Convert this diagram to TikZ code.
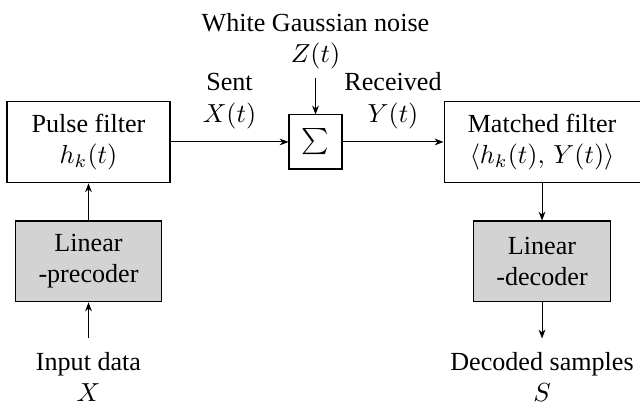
\documentclass[tikz,border=0pt]{standalone}
\usepackage[no-math]{fontspec}
\setmainfont{Liberation Serif}
\usepackage{xcolor}
\usepackage{tikz}
\usetikzlibrary{positioning, arrows.meta}
\definecolor{coderfill}{HTML}{D3D3D3}

\begin{document}
\begin{tikzpicture}[
    block/.style={draw, align=center, minimum height=1.1cm},
    coder/.style={block, fill=coderfill, minimum height=1.09cm},
    sumbox/.style={draw, minimum width=20.3pt, minimum height=20.7pt, inner sep=0pt},
    sig/.style={-{Stealth[length=3.4pt, width=2.6pt]}, line width=0.4pt}]
      \useasboundingbox (-4.249, 1.912) rectangle (4.370, -3.555);
      % main chain
      \node[sumbox] (sum) at (0, 0) {$\sum$};
      \node[block, minimum width=2.195cm, left=1.589cm of sum] (pulse)
        {Pulse filter\\$h_k(t)$};
      \node[block, minimum width=2.64cm, right=1.36cm of sum] (match)
        {Matched filter\\$\langle h_k(t),\, Y(t)\rangle$};
      \node[coder, minimum width=1.967cm, below=0.5cm of pulse] (pre)
        {Linear\\-precoder};
      \node[coder, minimum width=1.845cm, below=0.5cm of match] (dec)
        {Linear\\-decoder};
      % free ends
      \coordinate[above=0.485cm of sum] (noise);
      \coordinate[below=0.485cm of pre] (input);
      \coordinate[below=0.485cm of dec] (output);
      % labels
      \node[above, align=center] (noiselbl) at (noise)
        {White Gaussian noise\\$Z(t)$};
      \node[below=1.8pt, align=center] (inputlbl) at (input)
        {Input data\\$X$};
      \node[below=1.8pt, align=center] (outputlbl) at (output)
        {Decoded samples\\$S$};
      % connectors
      \draw[sig] (pulse) -- node[above=1.5pt, align=center] (sent)
        {Sent\\$X(t)$} (sum);
      \draw[sig] (sum) -- node[above=1.5pt, align=center] (recv)
        {Received\\$Y(t)$} (match);
      \draw[sig] (noise) -- (sum);
      \draw[sig] (input) -- (pre);
      \draw[sig] (pre) -- (pulse);
      \draw[sig] (match) -- (dec);
      \draw[sig] (dec) -- (output);
    \end{tikzpicture}
\end{document}
